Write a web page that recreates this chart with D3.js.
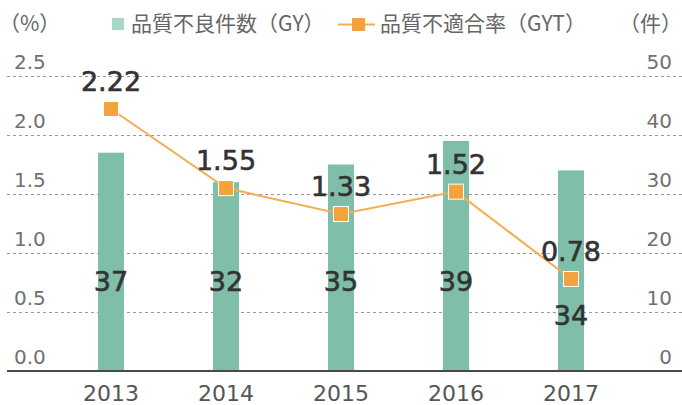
<!DOCTYPE html>
<html>
<head>
<meta charset="utf-8">
<script src="https://cdn.jsdelivr.net/npm/d3@7"></script>
<style>
	body { margin: 0; background: #fff; }
	svg { display: block; }
</style>
</head>
<body>
<div id="chart"></div>
<script>

	// data
	let years = ["2013", "2014", "2015", "2016", "2017"];
	let counts = [37, 32, 35, 39, 34];           // 品質不良件数(GY)
	let rates = [2.22, 1.55, 1.33, 1.52, 0.78];  // 品質不適合率(GYT)
	let rateTicks = [0, 0.5, 1.0, 1.5, 2.0, 2.5];
	let countTicks = [0, 10, 20, 30, 40, 50];
	let legendLabels = ["品質不良件数（GY）", "品質不適合率（GYT）"];

	let width = 682, height = 405;
	let numFont = "DejaVu Sans, sans-serif";
	let jpFont = "'Noto Sans CJK JP', sans-serif";

	let green = "#7fbea8";
	let orange = "#f4a33c";

	let svg = d3.select("#chart")
		.append("svg")
			.attr("width", width)
			.attr("height", height)

	let x = d3.scaleBand()
		.domain(years)
		.range([9, 673])
		.paddingInner(0.774)
		.paddingOuter(0.774)

	let yRate = d3.scaleLinear().domain([0, 2.5]).range([371, 76]);
	let yCount = d3.scaleLinear().domain([0, 50]).range([371, 76]);

	// dashed grid
	svg.append("g")
		.selectAll("line")
		.data(rateTicks.filter(d => d > 0))
		.enter()
			.append("line")
			.attr("x1", 7)
			.attr("x2", width)
			.attr("y1", d => yRate(d) + 0.5)
			.attr("y2", d => yRate(d) + 0.5)
			.attr("stroke", "#9a9a9a")
			.attr("stroke-width", 1)
			.attr("stroke-dasharray", "3,3")

	// left axis labels
	svg.append("g")
		.selectAll("text")
		.data(rateTicks)
		.enter()
			.append("text")
			.attr("x", 14)
			.attr("y", d => yRate(d) - 7)
			.attr("font-family", numFont)
			.attr("font-size", 20)
			.attr("fill", "#707070")
			.text(d => d3.format(".1f")(d))

	// right axis labels
	svg.append("g")
		.selectAll("text")
		.data(countTicks)
		.enter()
			.append("text")
			.attr("x", 672)
			.attr("y", d => yCount(d) - 7)
			.attr("text-anchor", "end")
			.attr("font-family", numFont)
			.attr("font-size", 20)
			.attr("fill", "#707070")
			.text(d => d)

	// bars
	svg.append("g")
		.selectAll("rect")
		.data(counts)
		.enter()
			.append("rect")
			.attr("x", (d, i) => x(years[i]))
			.attr("y", d => yCount(d))
			.attr("width", x.bandwidth())
			.attr("height", d => yCount(0) - yCount(d))
			.attr("fill", green)

	// baseline
	svg.append("line")
		.attr("x1", 7)
		.attr("x2", width)
		.attr("y1", yRate(0))
		.attr("y2", yRate(0))
		.attr("stroke", "#4a4a4a")
		.attr("stroke-width", 2)

	// year labels
	svg.append("g")
		.selectAll("text")
		.data(years)
		.enter()
			.append("text")
			.attr("x", d => x(d) + x.bandwidth() / 2)
			.attr("y", 401)
			.attr("text-anchor", "middle")
			.attr("font-family", numFont)
			.attr("font-size", 22)
			.attr("fill", "#555")
			.text(d => d)

	// rate line
	let line = d3.line()
		.x((d, i) => x(years[i]) + x.bandwidth() / 2)
		.y(d => yRate(d))

	svg.append("path")
		.datum(rates)
		.attr("d", line)
		.attr("fill", "none")
		.attr("stroke", "#f5ac52")
		.attr("stroke-width", 2)

	let mk = 15;
	svg.append("g")
		.selectAll("rect")
		.data(rates)
		.enter()
			.append("rect")
			.attr("x", (d, i) => x(years[i]) + x.bandwidth() / 2 - mk / 2)
			.attr("y", d => yRate(d) - mk / 2)
			.attr("width", mk)
			.attr("height", mk)
			.attr("fill", orange)
			.attr("stroke", "#fff")
			.attr("stroke-width", 1)

	// bar value labels, pushed below the marker when they would collide
	svg.append("g")
		.selectAll("text")
		.data(counts)
		.enter()
			.append("text")
			.attr("x", (d, i) => x(years[i]) + x.bandwidth() / 2)
			.attr("y", (d, i) => Math.max(yCount(13.5), yRate(rates[i]) + 46))
			.attr("text-anchor", "middle")
			.attr("font-family", numFont)
			.attr("font-size", 27)
			.attr("fill", "#333")
			.attr("stroke", "#333")
			.attr("stroke-width", 0.6)
			.text(d => d)

	// rate value labels
	svg.append("g")
		.selectAll("text")
		.data(rates)
		.enter()
			.append("text")
			.attr("x", (d, i) => x(years[i]) + x.bandwidth() / 2)
			.attr("y", d => yRate(d) - 18)
			.attr("text-anchor", "middle")
			.attr("font-family", numFont)
			.attr("font-size", 27)
			.attr("fill", "#333")
			.attr("stroke", "#333")
			.attr("stroke-width", 0.6)
			.text(d => d3.format(".2f")(d))

	// header: units and legend
	let head = svg.append("g")
		.attr("font-family", jpFont)
		.attr("font-size", 21)
		.attr("fill", "#666")

	head.append("text").attr("x", -1).attr("y", 31).text("（%）");
	head.append("text").attr("x", 682).attr("y", 31).attr("text-anchor", "end").text("（件）");

	head.append("rect")
		.attr("x", 112).attr("y", 18)
		.attr("width", 12).attr("height", 12)
		.attr("fill", "#a9d7c4")
	head.append("text").attr("x", 131).attr("y", 31).text(legendLabels[0]);

	head.append("line")
		.attr("x1", 338).attr("x2", 375)
		.attr("y1", 24.5).attr("y2", 24.5)
		.attr("stroke", "#f5ac52").attr("stroke-width", 2)
	head.append("rect")
		.attr("x", 352).attr("y", 18)
		.attr("width", 13).attr("height", 13)
		.attr("fill", orange)
	head.append("text").attr("x", 380).attr("y", 31).text(legendLabels[1]);

</script>
</body>
</html>
